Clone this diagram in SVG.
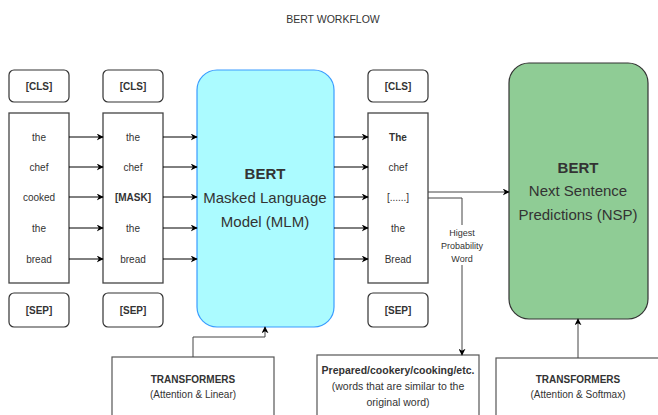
<svg xmlns="http://www.w3.org/2000/svg" width="658" height="415" viewBox="0 0 658 415">
<style>
text{font-family:"Liberation Sans",Arial,sans-serif;fill:#333;text-anchor:middle}
.w{font-size:10px}
.b{font-weight:bold}
.tok{fill:#fff;stroke:#333;stroke-width:1.2}
.col{fill:#fff;stroke:#444;stroke-width:1.3}
.big{font-size:15px}
.c{fill:none;stroke:#000;stroke-width:1}
.g{fill:none;stroke:#444;stroke-width:1}
.box{fill:#fff;stroke:#555;stroke-width:1.2}
</style>
<defs>
<marker id="ah" viewBox="0 0 10 10" refX="9" refY="5" markerWidth="7" markerHeight="7" markerUnits="userSpaceOnUse" orient="auto">
<path d="M0,0 L10,5 L0,10 L3,5 Z" fill="#000"/>
</marker>
</defs>
<text x="333" y="23" style="font-size:10.5px">BERT WORKFLOW</text>

<g id="col1">
<rect class="tok" x="9" y="70" width="60" height="32" rx="5"/>
<text class="w b" x="39" y="90">[CLS]</text>
<rect class="col" x="9" y="113" width="60" height="170"/>
<text class="w" x="39" y="141">the</text>
<text class="w" x="39" y="171">chef</text>
<text class="w" x="39" y="201">cooked</text>
<text class="w" x="39" y="232">the</text>
<text class="w" x="39" y="263">bread</text>
<rect class="tok" x="9" y="293" width="60" height="34" rx="5"/>
<text class="w b" x="39" y="314">[SEP]</text>
</g>

<g id="col2">
<rect class="tok" x="103" y="70" width="60" height="32" rx="5"/>
<text class="w b" x="133" y="90">[CLS]</text>
<rect class="col" x="103" y="113" width="60" height="170"/>
<text class="w" x="133" y="141">the</text>
<text class="w" x="133" y="171">chef</text>
<text class="w b" x="133" y="201">[MASK]</text>
<text class="w" x="133" y="232">the</text>
<text class="w" x="133" y="263">bread</text>
<rect class="tok" x="103" y="293" width="60" height="34" rx="5"/>
<text class="w b" x="133" y="314">[SEP]</text>
</g>

<g id="mlm">
<rect x="197" y="70" width="137" height="257" rx="20" fill="#abfbff" stroke="#3a9cff" stroke-width="1.2"/>
<text class="big b" x="265" y="179">BERT</text>
<text class="big" x="265" y="203">Masked Language</text>
<text class="big" x="265" y="227">Model (MLM)</text>
</g>

<g id="col3">
<rect class="tok" x="368" y="70" width="60" height="32" rx="5"/>
<text class="w b" x="398" y="90">[CLS]</text>
<rect class="col" x="368" y="113" width="60" height="170"/>
<text class="w b" x="398" y="141">The</text>
<text class="w" x="398" y="171">chef</text>
<text class="w" x="398" y="201">[......]</text>
<text class="w" x="398" y="232">the</text>
<text class="w" x="398" y="263">Bread</text>
<rect class="tok" x="368" y="293" width="60" height="34" rx="5"/>
<text class="w b" x="398" y="314">[SEP]</text>
</g>

<g id="nsp">
<rect x="509" y="63" width="139" height="256" rx="20" fill="#8fcc95" stroke="#333" stroke-width="1.2"/>
<text class="big b" x="578" y="173">BERT</text>
<text class="big" x="578" y="196">Next Sentence</text>
<text class="big" x="578" y="220">Predictions (NSP)</text>
</g>

<g id="trans1">
<rect class="box" x="112" y="357" width="162" height="70"/>
<text class="w b" x="193" y="383">TRANSFORMERS</text>
<text class="w" x="193" y="398">(Attention &amp; Linear)</text>
</g>

<g id="words">
<rect class="box" x="317" y="355" width="162" height="70"/>
<text class="b" x="398" y="374" style="font-size:10.5px">Prepared/cookery/cooking/etc.</text>
<text x="398" y="390" style="font-size:10.5px">(words that are similar to the</text>
<text x="398" y="406" style="font-size:10.5px">original word)</text>
</g>

<g id="trans2">
<rect class="box" x="496" y="358" width="170" height="70"/>
<text class="w b" x="578" y="383">TRANSFORMERS</text>
<text class="w" x="578" y="398">(Attention &amp; Softmax)</text>
</g>

<g id="connectors">
<path class="c" d="M69,137H103" marker-end="url(#ah)"/>
<path class="c" d="M69,167H103" marker-end="url(#ah)"/>
<path class="c" d="M69,197H103" marker-end="url(#ah)"/>
<path class="c" d="M69,228H103" marker-end="url(#ah)"/>
<path class="c" d="M69,259H103" marker-end="url(#ah)"/>
<path class="c" d="M163,137H197" marker-end="url(#ah)"/>
<path class="c" d="M163,167H197" marker-end="url(#ah)"/>
<path class="c" d="M163,197H197" marker-end="url(#ah)"/>
<path class="c" d="M163,228H197" marker-end="url(#ah)"/>
<path class="c" d="M163,259H197" marker-end="url(#ah)"/>
<path class="c" d="M334,137H368" marker-end="url(#ah)"/>
<path class="c" d="M334,167H368" marker-end="url(#ah)"/>
<path class="c" d="M334,197H368" marker-end="url(#ah)"/>
<path class="c" d="M334,228H368" marker-end="url(#ah)"/>
<path class="c" d="M334,259H368" marker-end="url(#ah)"/>
<path class="g" d="M428,192H509" marker-end="url(#ah)"/>
<path class="g" d="M428,198H462V355" marker-end="url(#ah)"/>
<rect x="440" y="225" width="44" height="40" fill="#fff"/>
<text x="462" y="236" style="font-size:9px">Higest</text>
<text x="462" y="249" style="font-size:9px">Probability</text>
<text x="462" y="262" style="font-size:9px">Word</text>
<path class="g" d="M193,357V337H265V327" marker-end="url(#ah)"/>
<path class="g" d="M578,358V319" marker-end="url(#ah)"/>
</g>
</svg>
